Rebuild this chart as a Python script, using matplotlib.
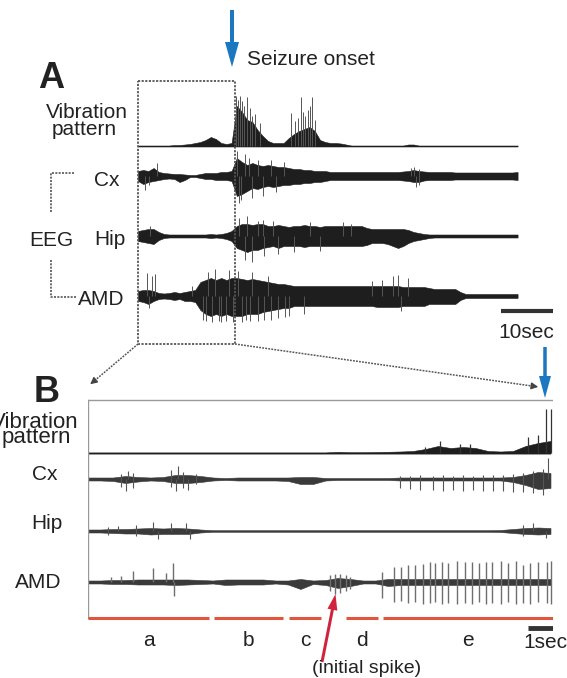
import numpy as np
import matplotlib
matplotlib.use('Agg')
import matplotlib.pyplot as plt
from matplotlib.patches import Rectangle, FancyArrow

plt.rcParams['font.family'] = ['Liberation Sans', 'DejaVu Sans']

W, H = 567, 678

# ---------------- data (amplitudes in px) ----------------
# Panel A: overview, 1 s sampling, 0..73 s ; seizure onset at 18.6 s
tA = np.arange(74)
vibA_up = [0.5, 0.5, 0.5, 0.5, 0.5, 0.5, 0.5, 1, 1, 1.5, 2, 3, 4, 6, 9, 7, 3, 2, 3,
           40, 34, 26, 24, 16, 10, 5, 3, 3, 3, 8, 12, 15, 17, 19, 15, 6, 4, 3,
           3, 2.5, 1.5, 0.5, 0.5, 0.5, 0.5, 0.5, 0.5, 0.5, 0.5, 0.5, 0.5, 0.5, 1.5, 1.5,
           0.5, 0.5, 0.5, 0.5, 0.5, 0.5, 0.5, 0.5, 0.5, 0.5, 0.5, 0.5, 0.5, 0.5, 0.5, 0.5,
           0.5, 0.5, 0.5, 0.5]
vibA_dn = [0.5] * 74
vibA_spk_t = [18.8, 19.2, 19.6, 20.0, 20.3, 21.0, 21.5, 22.0, 22.5, 23.5,
              29.4, 30.2, 30.8, 31.3, 31.8, 32.2, 32.6, 33.0, 33.4, 34.0]
vibA_spk_top = [50, 46, 50, 45, 40, 49, 38, 30, 32, 23,
                33, 25, 28, 49, 34, 30, 36, 40, 49, 26]
vibA_spk_bot = [0] * 20

cxA_up = [5, 6, 5, 8, 4, 3, 2.5, 2, 2, 1.5, 1, 1, 2, 3, 3, 3, 4, 4, 5,
          18, 14, 11, 13, 11, 10, 11, 10, 9, 9, 8, 7, 7, 6, 6, 5, 5, 5,
          4, 4, 4, 4, 4, 4, 4, 4, 4, 4, 4, 4, 4, 4,
          4.5, 5, 6, 5, 4.5, 4, 4, 4, 4, 4,
          3.5, 3.5, 3.5, 3.5, 3.5, 3.5, 3.5, 3.5, 3.5, 3.5, 3.5, 3.5, 4]
cxA_dn = [5, 8, 6, 5, 4, 3, 2.5, 3, 6, 4, 1, 1, 2, 3, 3, 4, 4, 4, 5,
          20, 18, 15, 12, 13, 11, 10, 11, 10, 9, 9, 8, 8, 7, 7, 6, 6, 5,
          4, 4, 4, 4, 4, 4, 4, 4, 4, 4, 4, 4, 4, 4,
          4.5, 5, 6, 6, 4.5, 4, 4, 4, 4, 4,
          3.5, 3.5, 3.5, 3.5, 3.5, 3.5, 3.5, 3.5, 3.5, 3.5, 3.5, 3.5, 4]
cxA_spk_t = [1.4, 2.1, 3.6, 19.0, 19.4, 19.8, 20.5, 21.3, 22.0, 23.0, 24.0, 25.5, 26.5,
             28.0, 52.5, 53.0, 53.5, 54.0]
cxA_spk_top = [0, 0, 13, 25, 0, 0, 22, 18, 0, 16, 0, 16, 0, 14, 8, 9, 0, 7]
cxA_spk_bot = [-14, -9, 0, 0, -27, -24, 0, 0, -22, 0, -20, 0, -16, 0, 0, 0, -11, -9]

hipA_up = [5, 6, 7, 7, 4, 2, 1.5, 1.5, 1.5, 1.5, 1.5, 1.5, 1.5, 1.5, 2, 1.5, 2, 3, 5,
           10, 12, 12, 11, 12, 12, 10, 10, 11, 10, 9, 10, 10, 11, 10, 10, 9, 10,
           10, 10, 10, 10, 10, 10, 10, 8, 7, 7, 7, 7, 7, 7,
           7, 6, 4, 3, 2, 1.5, 1.5, 1.5, 1.5, 1.5,
           1.5, 1.5, 1.5, 1.5, 1.5, 1.5, 1.5, 1.5, 1.5, 1.5, 1.5, 1.5, 1.5]
hipA_dn = [5, 6, 7, 8, 4, 2, 1.5, 1.5, 1.5, 1.5, 1.5, 1.5, 1.5, 1.5, 2, 1.5, 2, 3, 5,
           12, 14, 16, 14, 14, 12, 11, 10, 12, 10, 10, 10, 10, 11, 10, 10, 10, 10,
           10, 10, 10, 10, 10, 10, 10, 9, 7, 7, 7, 8, 10, 12,
           10, 7, 5, 4, 3, 2, 1.5, 1.5, 1.5, 1.5,
           1.5, 1.5, 1.5, 1.5, 1.5, 1.5, 1.5, 1.5, 1.5, 1.5, 1.5, 1.5, 1.5]
hipA_spk_t = [2.4, 19.5, 20.5, 21.0, 22.0, 23.0, 24.0, 24.3, 26.0, 27.0, 30.0, 33.0, 35.0, 39.5, 41.0]
hipA_spk_top = [10, 18, 0, 20, 0, 15, 16, 0, 15, 0, 0, 14, 0, 14, 12]
hipA_spk_bot = [0, 0, -24, 0, -26, 0, 0, -20, 0, -18, -16, 0, -15, 0, 0]

amdA_up = [5, 6, 6, 5, 3, 2.5, 3, 4, 3, 4, 5, 6, 14, 16, 18, 16, 18, 16, 18,
           18, 17, 16, 17, 16, 15, 14, 13, 12, 12, 11, 10, 10, 10, 10, 10, 10, 10,
           10, 10, 10, 10, 10, 10, 10, 10, 10, 10, 10, 10, 10, 10,
           9, 9, 9, 9, 9, 8, 7, 7, 7, 7,
           7, 4, 2, 2, 2, 2, 2, 2, 2, 2, 2, 2, 2]
amdA_dn = [5, 6, 8, 5, 3, 2.5, 3, 4, 3, 5, 5, 6, 14, 18, 20, 18, 20, 18, 20,
           20, 20, 18, 18, 18, 16, 15, 14, 13, 12, 12, 10, 10, 10, 10, 10, 10, 10,
           10, 10, 10, 10, 10, 10, 10, 10, 10, 11, 11, 11, 11, 11,
           10, 10, 10, 10, 10, 8, 8, 8, 8, 8,
           8, 4, 2, 2, 2, 2, 2, 2, 2, 2, 2, 2, 2]
amdA_spk_t = [1.7, 2.2, 2.7, 3.3, 10.4, 12.5, 13.0, 13.5, 14.3, 14.8, 15.5, 16.0, 17.0,
              17.5, 18.3, 19.2, 20.0, 20.7, 21.5, 22.0, 23.0, 24.2, 25.0, 25.5, 27.0,
              28.2, 29.0, 32.0, 45.0, 47.0, 49.0, 50.0, 50.5, 52.0]
amdA_spk_top = [23, 0, 20, 22, 10, 0, 0, 24, 0, 27, 0, 0, 0,
                26, 0, 25, 0, 0, 0, 24, 0, 0, 20, 0, 0,
                0, 0, 0, 15, 16, 20, 21, 0, 18]
amdA_spk_bot = [0, -12, 0, 0, 0, -24, -25, 0, -26, 0, -25, -26, -25,
                0, -26, 0, -26, -24, -25, 0, -25, -24, 0, -24, -22,
                -21, -20, -18, 0, 0, 0, 0, -15, 0]

scaleA_sec = 10

# Panel B: expanded 18.6 s before onset, 0.5 s sampling
tB = np.arange(0, 18.51, 0.5)
vibB_up = [0.6] * 20 + [1.2, 0.8, 0.8, 1, 1.2, 1.5, 2, 4, 7, 5, 6, 5, 2, 1.5, 2, 7, 10, 12]
vibB_dn = [0.6] * 38
vibB_spk_t = [13.5, 14.1, 14.9, 15.3, 17.6, 18.0, 18.3, 18.5]
vibB_spk_top = [6, 12, 9, 9, 16, 18, 44, 44]
vibB_spk_bot = [0] * 8

cxB_up = [1.5, 1.5, 1.5, 3, 2, 1.5, 2, 4, 4, 3, 1.5, 1, 1.5, 1.5, 1.5, 1.5, 1.5, 2, 2, 1,
          1, 1, 1, 1, 1, 1.5, 1.5, 1.5, 1.5, 1.5, 1.5, 1.5, 1.5, 1.5, 2, 4, 7, 6]
cxB_dn = [1.5, 1.5, 2, 4, 2.5, 1.5, 2, 4, 4, 3, 1.5, 1, 1.5, 1.5, 1.5, 1.5, 2, 5, 5, 1.5,
          1, 1, 1, 1, 1, 1.5, 1.5, 1.5, 1.5, 1.5, 1.5, 1.5, 1.5, 1.5, 3, 6, 10, 9]
cxB_spk_t = [1.3, 1.5, 1.6, 1.8, 3.3, 3.5, 3.6, 3.8, 4.0, 4.3,
             12.5, 12.9, 13.3, 13.8, 14.2, 14.6, 15.0, 15.4,
             15.8, 16.2, 16.6, 17.0, 17.4, 17.8, 18.2, 18.4]
cxB_spk_top = [5, 0, 8, 6, 9, 0, 13, 7, 0, 5,
               3, 3, 4, 3, 4, 3, 4, 3, 4, 4, 4, 5, 6, 8, 10, 21]
cxB_spk_bot = [-8, -12, 0, -9, -8, -12, 0, -9, -11, -5,
               -9, -10, -11, -11, -12, -11, -12, -11,
               -12, -12, -12, -13, -13, -14, -16, 0]

hipB_up = [1.5, 1.5, 2, 2, 2.5, 3, 2.5, 3, 2.5, 1.5] + [0.8] * 23 + [1, 2, 3, 3.5, 3]
hipB_dn = [1.5, 1.5, 2, 2.5, 2.5, 3.5, 3, 3, 3, 1.5] + [0.8] * 23 + [1, 2, 3, 3.5, 3]
hipB_spk_t = [0.8, 1.2, 1.9, 2.6, 2.8, 3.3, 3.9, 4.1, 17.4, 17.8, 18.3]
hipB_spk_top = [4, 5, 6, 9, 0, 8, 8, 0, 6, 8, 0]
hipB_spk_bot = [-4, 0, -5, 0, -8, 0, 0, -8, -5, 0, -7]

amdB_up = [1.5, 1.5, 2, 2, 2.5, 2.5, 2.5, 2.5, 2.5, 2, 1.5, 2.5, 2.5, 2.5, 2.5, 1.5, 1.5, 3, 1.5, 2,
           4, 3, 1.5, 1.5, 3] + [3] * 13
amdB_dn = [1.5, 1.5, 2, 2, 2.5, 2.5, 2.5, 3, 2.5, 2, 1.5, 3, 2.5, 2.5, 2.5, 1.5, 2.5, 7, 2, 3,
           6, 4, 1.5, 1.5, 4] + [3] * 13
amdB_spk_t = [0.9, 1.3, 1.8, 2.6, 3.1, 3.4, 3.45,
              9.68, 9.88, 10.08, 10.3, 10.5,
              11.78, 12.26, 12.53, 12.8, 13.07, 13.41, 13.68, 13.88, 14.15, 14.42, 14.76, 15.1,
              15.37, 15.64, 15.91, 16.18, 16.52, 16.79, 17.12, 17.39, 17.66, 18.0, 18.34, 18.54]
amdB_spk_top = [5, 6, 11, 14, 9, 19, 0,
                7, 8, 8, 7, 5,
                10, 15, 15, 17, 17, 18, 20, 19, 20, 19, 21, 20,
                20, 19, 20, 20, 21, 19, 21, 17, 19, 20, 20, 21]
amdB_spk_bot = [0, 0, 0, 0, 0, 0, -14,
                -9, -12, -11, -9, -7,
                -16, -20, -19, -21, -20, -22, -21, -20, -22, -21, -22, -21,
                -22, -20, -22, -21, -22, -20, -22, -21, -22, -20, -21, -22]

seg_labels = ['a', 'b', 'c', 'd', 'e']
seg_start = [0.0, 5.04, 8.04, 10.32, 11.8]
seg_end = [4.84, 7.8, 9.32, 11.6, 18.6]
scaleB_sec = 1

# ---------------- figure ----------------
fig = plt.figure(figsize=(W / 100, H / 100), dpi=100)
fig.patch.set_facecolor('white')

core = '#1e1e1e'


def trace(ax, t, up, dn, base, st, stop, sbot, lw_sp=0.7, spc='#555555', ccol=core):
    t = np.asarray(t, float)
    up = np.asarray(up, float)
    dn = np.asarray(dn, float)
    ax.fill_between(t, base - up, base + dn, color=ccol, lw=0.4, ec=ccol)
    st = np.asarray(st, float)
    stop = np.asarray(stop, float)
    sbot = np.asarray(sbot, float)
    ax.vlines(st, base - stop, base - sbot, color=spc, lw=lw_sp)


pxA = 5.2  # px per second in panel A
axA = fig.add_axes([138 / W, 0, (553 - 138) / W, 1])
axA.set_xlim(0, (553 - 138) / pxA)
axA.set_ylim(H, 0)
axA.axis('off')
trace(axA, tA, vibA_up, vibA_dn, 146, vibA_spk_t, vibA_spk_top, vibA_spk_bot)
trace(axA, tA, cxA_up, cxA_dn, 176, cxA_spk_t, cxA_spk_top, cxA_spk_bot)
trace(axA, tA, hipA_up, hipA_dn, 236, hipA_spk_t, hipA_spk_top, hipA_spk_bot)
trace(axA, tA, amdA_up, amdA_dn, 296, amdA_spk_t, amdA_spk_top, amdA_spk_bot)
xend = (553 - 138) / pxA
axA.hlines(311, xend - scaleA_sec, xend, color='#333333', lw=3)

axB = fig.add_axes([88 / W, 0, 465 / W, 1])
axB.set_xlim(0, 18.6)
axB.set_ylim(H, 0)
axB.axis('off')
trace(axB, tB, vibB_up, vibB_dn, 453, vibB_spk_t, vibB_spk_top, vibB_spk_bot, lw_sp=0.9, spc='#333333')
trace(axB, tB, cxB_up, cxB_dn, 479, cxB_spk_t, cxB_spk_top, cxB_spk_bot, lw_sp=0.8, ccol='#3a3a3a')
trace(axB, tB, hipB_up, hipB_dn, 531, hipB_spk_t, hipB_spk_top, hipB_spk_bot, lw_sp=0.8, ccol='#3a3a3a')
trace(axB, tB, amdB_up, amdB_dn, 582, amdB_spk_t, amdB_spk_top, amdB_spk_bot, lw_sp=1.0,
      spc='#6e6e6e', ccol='#3a3a3a')
# frame of panel B
axB.plot([0, 18.6], [400, 400], color='#9a9a9a', lw=1)
axB.plot([0, 0], [400, 618], color='#9a9a9a', lw=1)
# red segments
for s, e in zip(seg_start, seg_end):
    axB.plot([s, e], [618, 618], color='#e2553a', lw=2.2, solid_capstyle='butt')
axB.hlines(628, 18.6 - scaleB_sec, 18.6, color='#333333', lw=3.5)

# ---------------- overlay (annotations) ----------------
ov = fig.add_axes([0, 0, 1, 1])
ov.set_xlim(0, W)
ov.set_ylim(H, 0)
ov.axis('off')
ov.patch.set_alpha(0)

txt = '#222222'
fs = 15
bold_fam = ['Liberation Sans Narrow', 'Liberation Sans', 'DejaVu Sans']

ov.text(38, 88, 'A', fontsize=26, fontweight='bold', family=bold_fam, color=txt, va='baseline', ha='left')
ov.text(34, 402, 'B', fontsize=26, fontweight='bold', family=bold_fam, color=txt, va='baseline', ha='left')
ov.text(247, 65, 'Seizure onset', fontsize=fs, color=txt, va='baseline', ha='left')

ov.text(87, 118, 'Vibration', fontsize=fs, color=txt, va='baseline', ha='center')
ov.text(84, 135, 'pattern', fontsize=fs, color=txt, va='baseline', ha='center')
ov.text(107, 186, 'Cx', fontsize=fs, color=txt, va='baseline', ha='center')
ov.text(110, 245, 'Hip', fontsize=fs, color=txt, va='baseline', ha='center')
ov.text(101, 305, 'AMD', fontsize=fs, color=txt, va='baseline', ha='center')
ov.text(51, 246, 'EEG', fontsize=fs, color=txt, va='baseline', ha='center')
ov.text(526, 338, '10sec', fontsize=fs, color=txt, va='baseline', ha='center')

ov.text(79, 428, 'Vibration', fontsize=16, color=txt, va='baseline', ha='right')
ov.text(71, 443, 'pattern', fontsize=16, color=txt, va='baseline', ha='right')
ov.text(45, 480, 'Cx', fontsize=fs, color=txt, va='baseline', ha='center')
ov.text(47, 529, 'Hip', fontsize=fs, color=txt, va='baseline', ha='center')
ov.text(38, 588, 'AMD', fontsize=fs, color=txt, va='baseline', ha='center')
for lab, s, e in zip(seg_labels, seg_start, seg_end):
    xc = 88 + 25 * (s + e) / 2
    ov.text(xc, 646, lab, fontsize=fs, color=txt, va='baseline', ha='center')
ov.text(545, 648, '1sec', fontsize=fs, color=txt, va='baseline', ha='center')
ov.text(367, 673, '(initial spike)', fontsize=14, color=txt, va='baseline', ha='center')

# EEG bracket
bc = '#555555'
dot = (0, (1.2, 0.8))
ov.plot([74, 51, 51], [173, 173, 212], color=bc, lw=1.2, ls=dot)
ov.plot([51, 51, 76], [260, 297, 297], color=bc, lw=1.2, ls=dot)

# dashed zoom box and guide lines
ov.add_patch(Rectangle((138, 81), 97, 263, fill=False, ec='#555555', lw=1.3, ls=dot))
ov.plot([138, 93], [344, 382], color='#555555', lw=1.1, ls=dot)
ov.plot([235, 532], [344, 386], color='#555555', lw=1.1, ls=dot)
ov.annotate('', xy=(88, 386), xytext=(96, 379.5),
            arrowprops=dict(arrowstyle='-|>', color='#444444', lw=1, mutation_scale=10))
ov.annotate('', xy=(541, 387.3), xytext=(530, 385.7),
            arrowprops=dict(arrowstyle='-|>', color='#444444', lw=1, mutation_scale=10))

# arrows
blue = '#1b78c0'
ov.add_patch(FancyArrow(232, 10, 0, 57, width=4, head_width=14, head_length=25,
                        length_includes_head=True, color=blue, lw=0))
ov.add_patch(FancyArrow(545, 347, 0, 51, width=3.5, head_width=12, head_length=22,
                        length_includes_head=True, color=blue, lw=0))
ov.add_patch(FancyArrow(322, 662, 13.5, -68, width=3, head_width=10, head_length=16,
                        length_includes_head=True, color='#d0243c', lw=0))

fig.savefig('out.png', dpi=100, facecolor='white')
